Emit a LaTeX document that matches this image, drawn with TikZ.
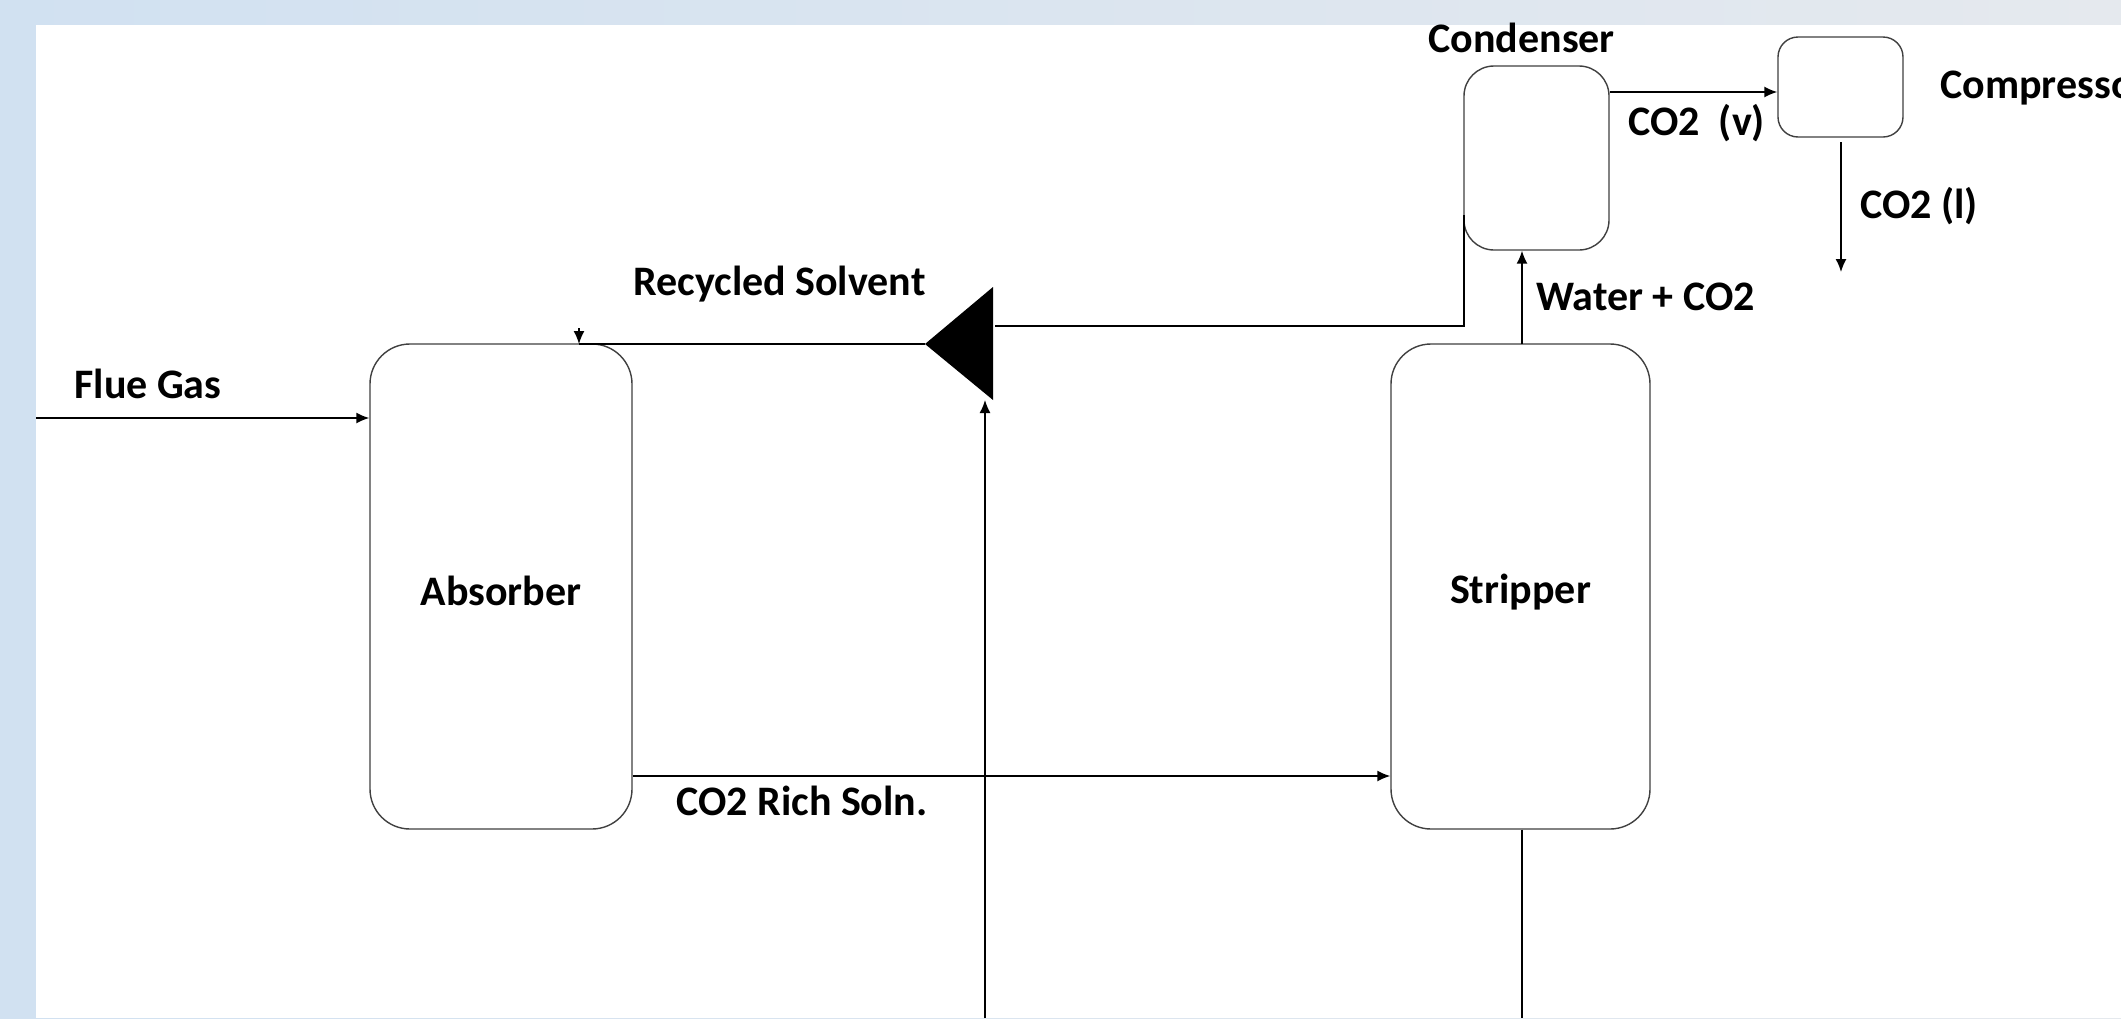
\documentclass[tikz,border=0pt]{standalone}
\usepackage{fontspec}
\setmainfont{Carlito}
\usetikzlibrary{arrows.meta}
\definecolor{bgL}{RGB}{209,225,241}
\definecolor{bgR}{RGB}{229,233,238}
\begin{document}
\begin{tikzpicture}[x=0.5pt,y=-0.5pt,
  unitbox/.style={draw=black!75, line width=0.7pt, fill=white, inner sep=0pt},
  lbl/.style={font=\bfseries\fontsize{21}{24}\selectfont, inner sep=0pt},
  flow/.style={draw=black, line width=0.75pt},
  arr/.style={flow, -{Latex[length=6.5pt,width=5.5pt]}}]
\useasboundingbox (0,0) rectangle (2121,1018);
\clip (0,0) rectangle (2121,1018);
\shade[left color=bgL, right color=bgR] (0,0) rectangle (2121,1018);
\fill[white] (36,25) rectangle (2121,1018);

% units
\node[unitbox, lbl, text height=19pt, text depth=0pt, rounded corners=20pt, minimum width=131pt, minimum height=242.5pt] (absorber) at (501,586.5) {Absorber};
\node[unitbox, lbl, text height=17pt, text depth=0pt, rounded corners=20pt, minimum width=129.5pt, minimum height=242.5pt] (stripper) at (1520.5,586.5) {Stripper};
\node[unitbox, rounded corners=15pt, minimum width=72.5pt, minimum height=92pt] (condenser) at (1536.5,158) {};
\node[unitbox, rounded corners=10pt, minimum width=62.5pt, minimum height=50pt] (compressor) at (1840.5,87) {};

% splitter
\coordinate (splA) at (925,344);
\coordinate (splT) at (993,287);
\coordinate (splB) at (993,400);
\fill[black] (splA) -- (splT) -- (splB) -- cycle;

% helper coordinates
\coordinate (flueIn) at (36,418);
\coordinate (richY) at (0,776);
\coordinate (absTopArr) at (579,344);
\coordinate (absTopStub) at (579,328);
\coordinate (condOut) at (1464,215);
\coordinate (condCorner) at (1464,326);
\coordinate (splR) at (995,326);
\coordinate (feedIn) at (985,1018);
\coordinate (feedTip) at (985,400);
\coordinate (stripBotEnd) at (1522,1018);
\coordinate (stripTop) at (1522,344);
\coordinate (vapY) at (0,92);
\coordinate (liqStart) at (1841,142);
\coordinate (liqEnd) at (1841,272);

% connectors
\draw[arr] (flueIn) -- (absorber.west |- flueIn);
\draw[arr] (absorber.east |- richY) -- (stripper.west |- richY);
\draw[flow] (splA) -- (absTopArr);
\draw[arr] (absTopStub) -- (absTopArr);
\draw[flow] (condOut) -- (condCorner) -- (splR);
\draw[arr] (feedIn) -- (feedTip);
\draw[flow] (stripper.south -| stripBotEnd) -- (stripBotEnd);
\draw[arr] (stripTop) -- (condenser.south -| stripTop);
\draw[arr] (condenser.east |- vapY) -- (compressor.west |- vapY);
\draw[arr] (liqStart) -- (liqEnd);

% labels
\node[lbl, anchor=base west] (lflue) at (74,398) {Flue Gas};
\node[lbl, anchor=base east] (lrec) at (926,295) {Recycled Solvent};
\node[lbl, anchor=base west] (lrich) at (676,815) {CO2 Rich Soln.};
\node[lbl, anchor=base west] (lcond) at (1428,52) {Condenser};
\node[lbl, anchor=base west] (lvap) at (1628,135) {CO2\ \ (v)};
\node[lbl, anchor=base west] (lcomp) at (1940,98) {Compressor};
\node[lbl, anchor=base west] (lliq) at (1860,218) {CO2 (l)};
\node[lbl, anchor=base west] (lwat) at (1536,310) {Water + CO2};
\end{tikzpicture}
\end{document}
